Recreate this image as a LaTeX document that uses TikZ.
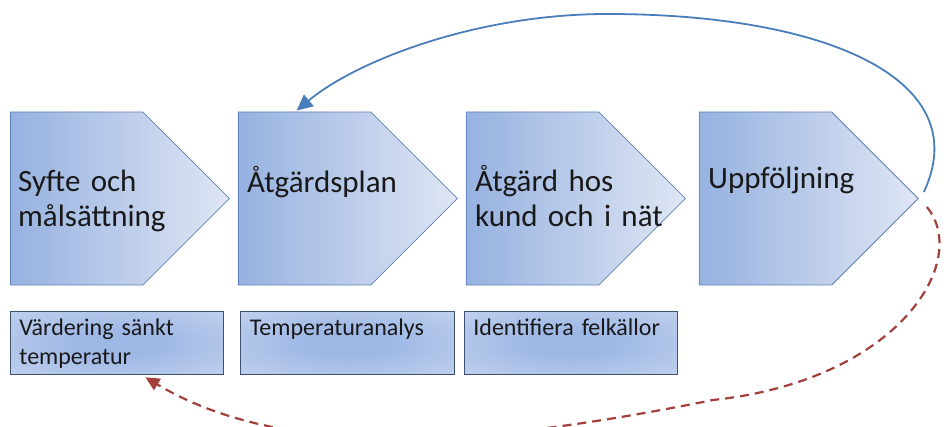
\documentclass[tikz,border=0pt]{standalone}
\usepackage{fontspec}
\setmainfont{Carlito}
\usepackage{tikz}
\usetikzlibrary{arrows.meta,positioning,shapes.symbols}

\definecolor{chevleft}{RGB}{150,178,224}
\definecolor{chevright}{RGB}{223,230,244}
\definecolor{chevline}{RGB}{96,130,186}
\definecolor{boxmid}{RGB}{158,184,230}
\definecolor{boxedge}{RGB}{222,229,243}
\definecolor{boxline}{RGB}{62,82,112}
\definecolor{loopblue}{RGB}{74,126,187}
\definecolor{loopred}{RGB}{163,64,60}

\pgfdeclareradialshading{boxglow}{\pgfpoint{0bp}{0bp}}{color(0bp)=(boxmid); color(10bp)=(boxmid); color(58bp)=(boxedge); color(80bp)=(boxedge)}

\begin{document}
\begin{tikzpicture}[
      x=1pt, y=1pt,
      chev/.style={signal, signal to=east, signal pointer angle=90,
                   draw=chevline, line width=0.8pt, left color=chevleft, right color=chevright,
                   minimum width=219pt, minimum height=173pt, inner sep=0pt},
      chevtxt/.style={anchor=base west, inner sep=0pt, text width=200pt, align=left,
                      font=\fontsize{31}{35}\selectfont, text=black!90},
      tbox/.style={draw=boxline, line width=0.9pt, shade, shading=boxglow,
                   minimum width=213pt, minimum height=63pt, text width=195pt,
                   inner xsep=9pt, inner ysep=0pt, align=left, text height=18pt, text depth=34pt,
                   font=\fontsize{24}{29}\selectfont, text=black!90},
      back/.style={-{Triangle[length=16pt, width=15pt]}, line width=1.8pt, draw=loopblue, fill=none},
      redo/.style={-{Triangle[length=14pt, width=13pt]}, line width=2.2pt, draw=loopred,
                   dash pattern=on 9pt off 6pt},
    ]
    \useasboundingbox (0,0) rectangle (949,426);
    % process steps
    \node[chev, anchor=west] (c1) at (10,227.5) {};
    \node[chev, right=8pt of c1]  (c2) {};
    \node[chev, right=8pt of c2]  (c3) {};
    \node[chev, right=13pt of c3] (c4) {};
    \node[chevtxt] (t1) at ([xshift=8pt, yshift=7pt]c1.west) {Syfte och\\målsättning};
    \node[chevtxt] (t2) at ([xshift=9pt, yshift=6pt]c2.west) {Åtgärdsplan};
    \node[chevtxt] (t3) at ([xshift=9pt, yshift=7pt]c3.west) {Åtgärd hos\\kund och i nät};
    \node[chevtxt] (t4) at ([xshift=9pt, yshift=10pt]c4.west) {Uppföljning};
    % activities
    \node[tbox, below=26pt of c1.south west, anchor=north west] (b1) {Värdering sänkt\\temperatur};
    \node[tbox, below=26pt of c2.south west, anchor=north west, xshift=2pt, minimum width=214pt] (b2) {Temperaturanalys};
    \node[tbox, below=26pt of c3.south west, anchor=north west, xshift=-2pt] (b3) {Identifiera felkällor};
    % feedback loops
    \draw[back] ([xshift=5pt, yshift=6.5pt]c4.east)
      .. controls +(52,111) and +(223,0) .. (607,412)
      .. controls +(-130,0) and +(60,50) .. ([xshift=-8pt, yshift=1pt]c2.north);
    \draw[redo] ([xshift=8pt, yshift=-8.5pt]c4.east)
      .. controls +(44,-53) and +(187,20) .. (713,26)
      .. controls +(-200,-40) and +(150,-90) .. ([xshift=28.5pt, yshift=-2pt]b1.south);
  \end{tikzpicture}
\end{document}
